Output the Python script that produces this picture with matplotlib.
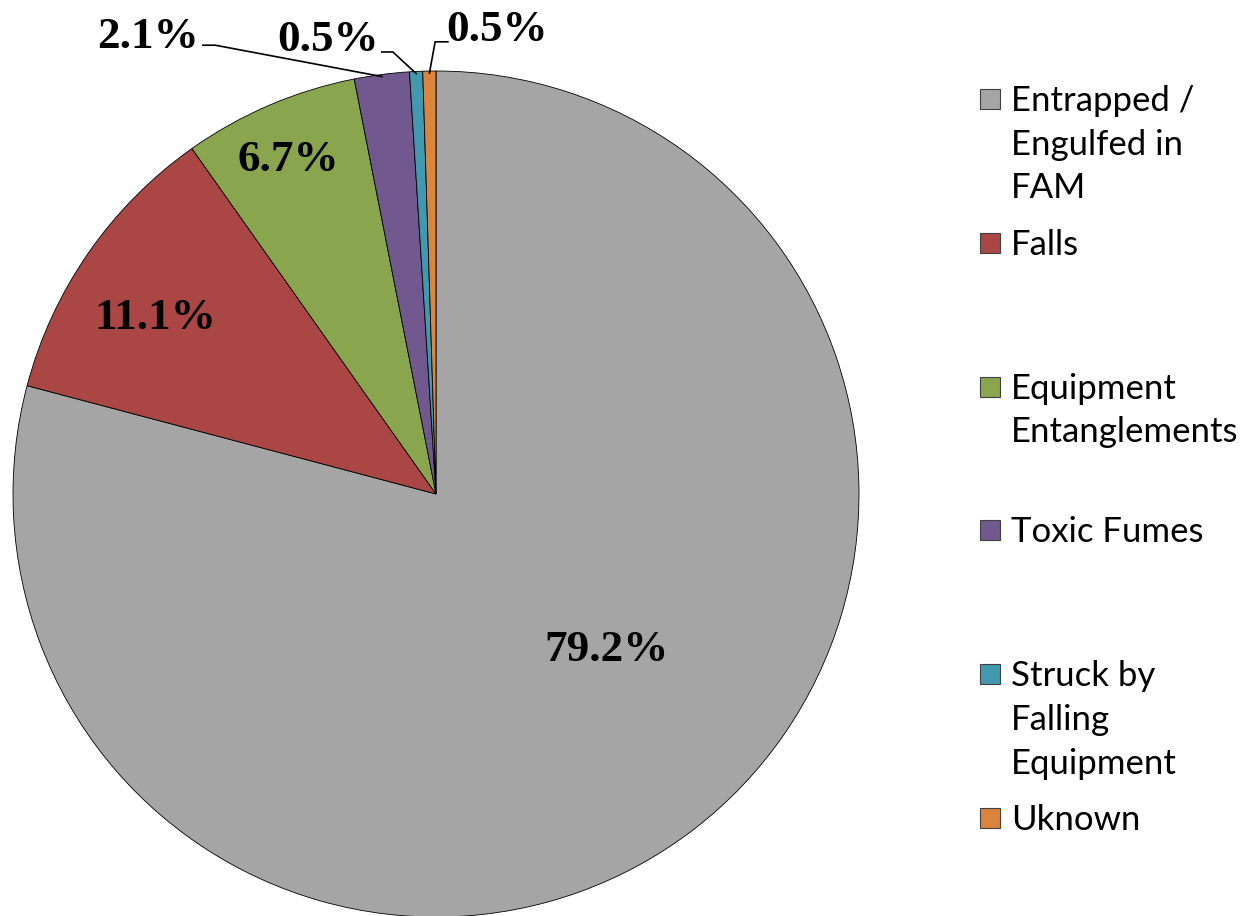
import numpy as np
import matplotlib.pyplot as plt
from matplotlib.patches import Rectangle

plt.switch_backend('Agg')

# Data
categories = ["Entrapped /\nEngulfed in\nFAM", "Falls", "Equipment\nEntanglements",
              "Toxic Fumes", "Struck by\nFalling\nEquipment", "Uknown"]
shares = [79.2, 11.1, 6.7, 2.1, 0.5, 0.5]
labels = ["79.2%", "11.1%", "6.7%", "2.1%", "0.5%", "0.5%"]
colors = ["#A5A5A5", "#AA4643", "#89A54E", "#71588F", "#4198AF", "#DB843D"]

W, H = 1249, 916
fig = plt.figure(figsize=(W / 100, H / 100), dpi=100)

# pie centre (436, 494) px, radius 423 px
cx, cy, r = 436, 494, 423
ax = fig.add_axes([(cx - r) / W, (H - cy - r) / H, 2 * r / W, 2 * r / H])

wedges, _ = ax.pie(shares, colors=colors, startangle=90, counterclock=False, radius=1,
                   wedgeprops=dict(edgecolor='black', linewidth=0.6))
ax.set_xlim(-1, 1)
ax.set_ylim(-1, 1)
ax.axis('off')
for w in wedges:
    w.set_clip_on(False)

pct_font = dict(family='Liberation Serif', weight='bold', fontsize=32.5, color='black')

# labels inside the bigger slices
inside_pos = {0: (0.404, -0.369), 1: (-0.664, 0.416), 2: (-0.350, 0.790)}
for i, (x, y) in inside_pos.items():
    ax.text(x, y, labels[i], ha='center', va='center', **pct_font)

# outside labels with leader lines: label position, elbow start, elbow end
outside = {
    3: ((-0.681, 1.080), (-0.551, 1.061), (-0.522, 1.061)),
    4: ((-0.255, 1.073), (-0.128, 1.045), (-0.102, 1.045)),
    5: ((0.144, 1.097), (0.028, 1.069), (-0.002, 1.069)),
}
for i, (lp, p0, p1) in outside.items():
    ax.text(lp[0], lp[1], labels[i], ha='center', va='center', clip_on=False, **pct_font)
    w = wedges[i]
    mid = np.deg2rad((w.theta1 + w.theta2) / 2)
    ex, ey = 0.995 * np.cos(mid), 0.995 * np.sin(mid)
    ax.plot([p0[0], p1[0], ex], [p0[1], p1[1], ey], color='black', lw=1.2,
            clip_on=False, solid_joinstyle='miter')

# legend, drawn by hand (Excel style, fixed slot per entry)
leg_x = 980
leg_y0 = 99
step = 143.8
box = 20
for i, (cat, col) in enumerate(zip(categories, colors)):
    yc = leg_y0 + i * step
    fig.patches.append(Rectangle((leg_x / W, (H - yc - box / 2) / H), box / W, box / H,
                                 facecolor=col, edgecolor='#404040', linewidth=0.8,
                                 transform=fig.transFigure))
    fig.text((leg_x + 31) / W, (H - yc + 14) / H, cat, ha='left', va='top',
             fontsize=25, family='Lato', linespacing=1.45, color='black')

fig.savefig('out.png', dpi=100)
